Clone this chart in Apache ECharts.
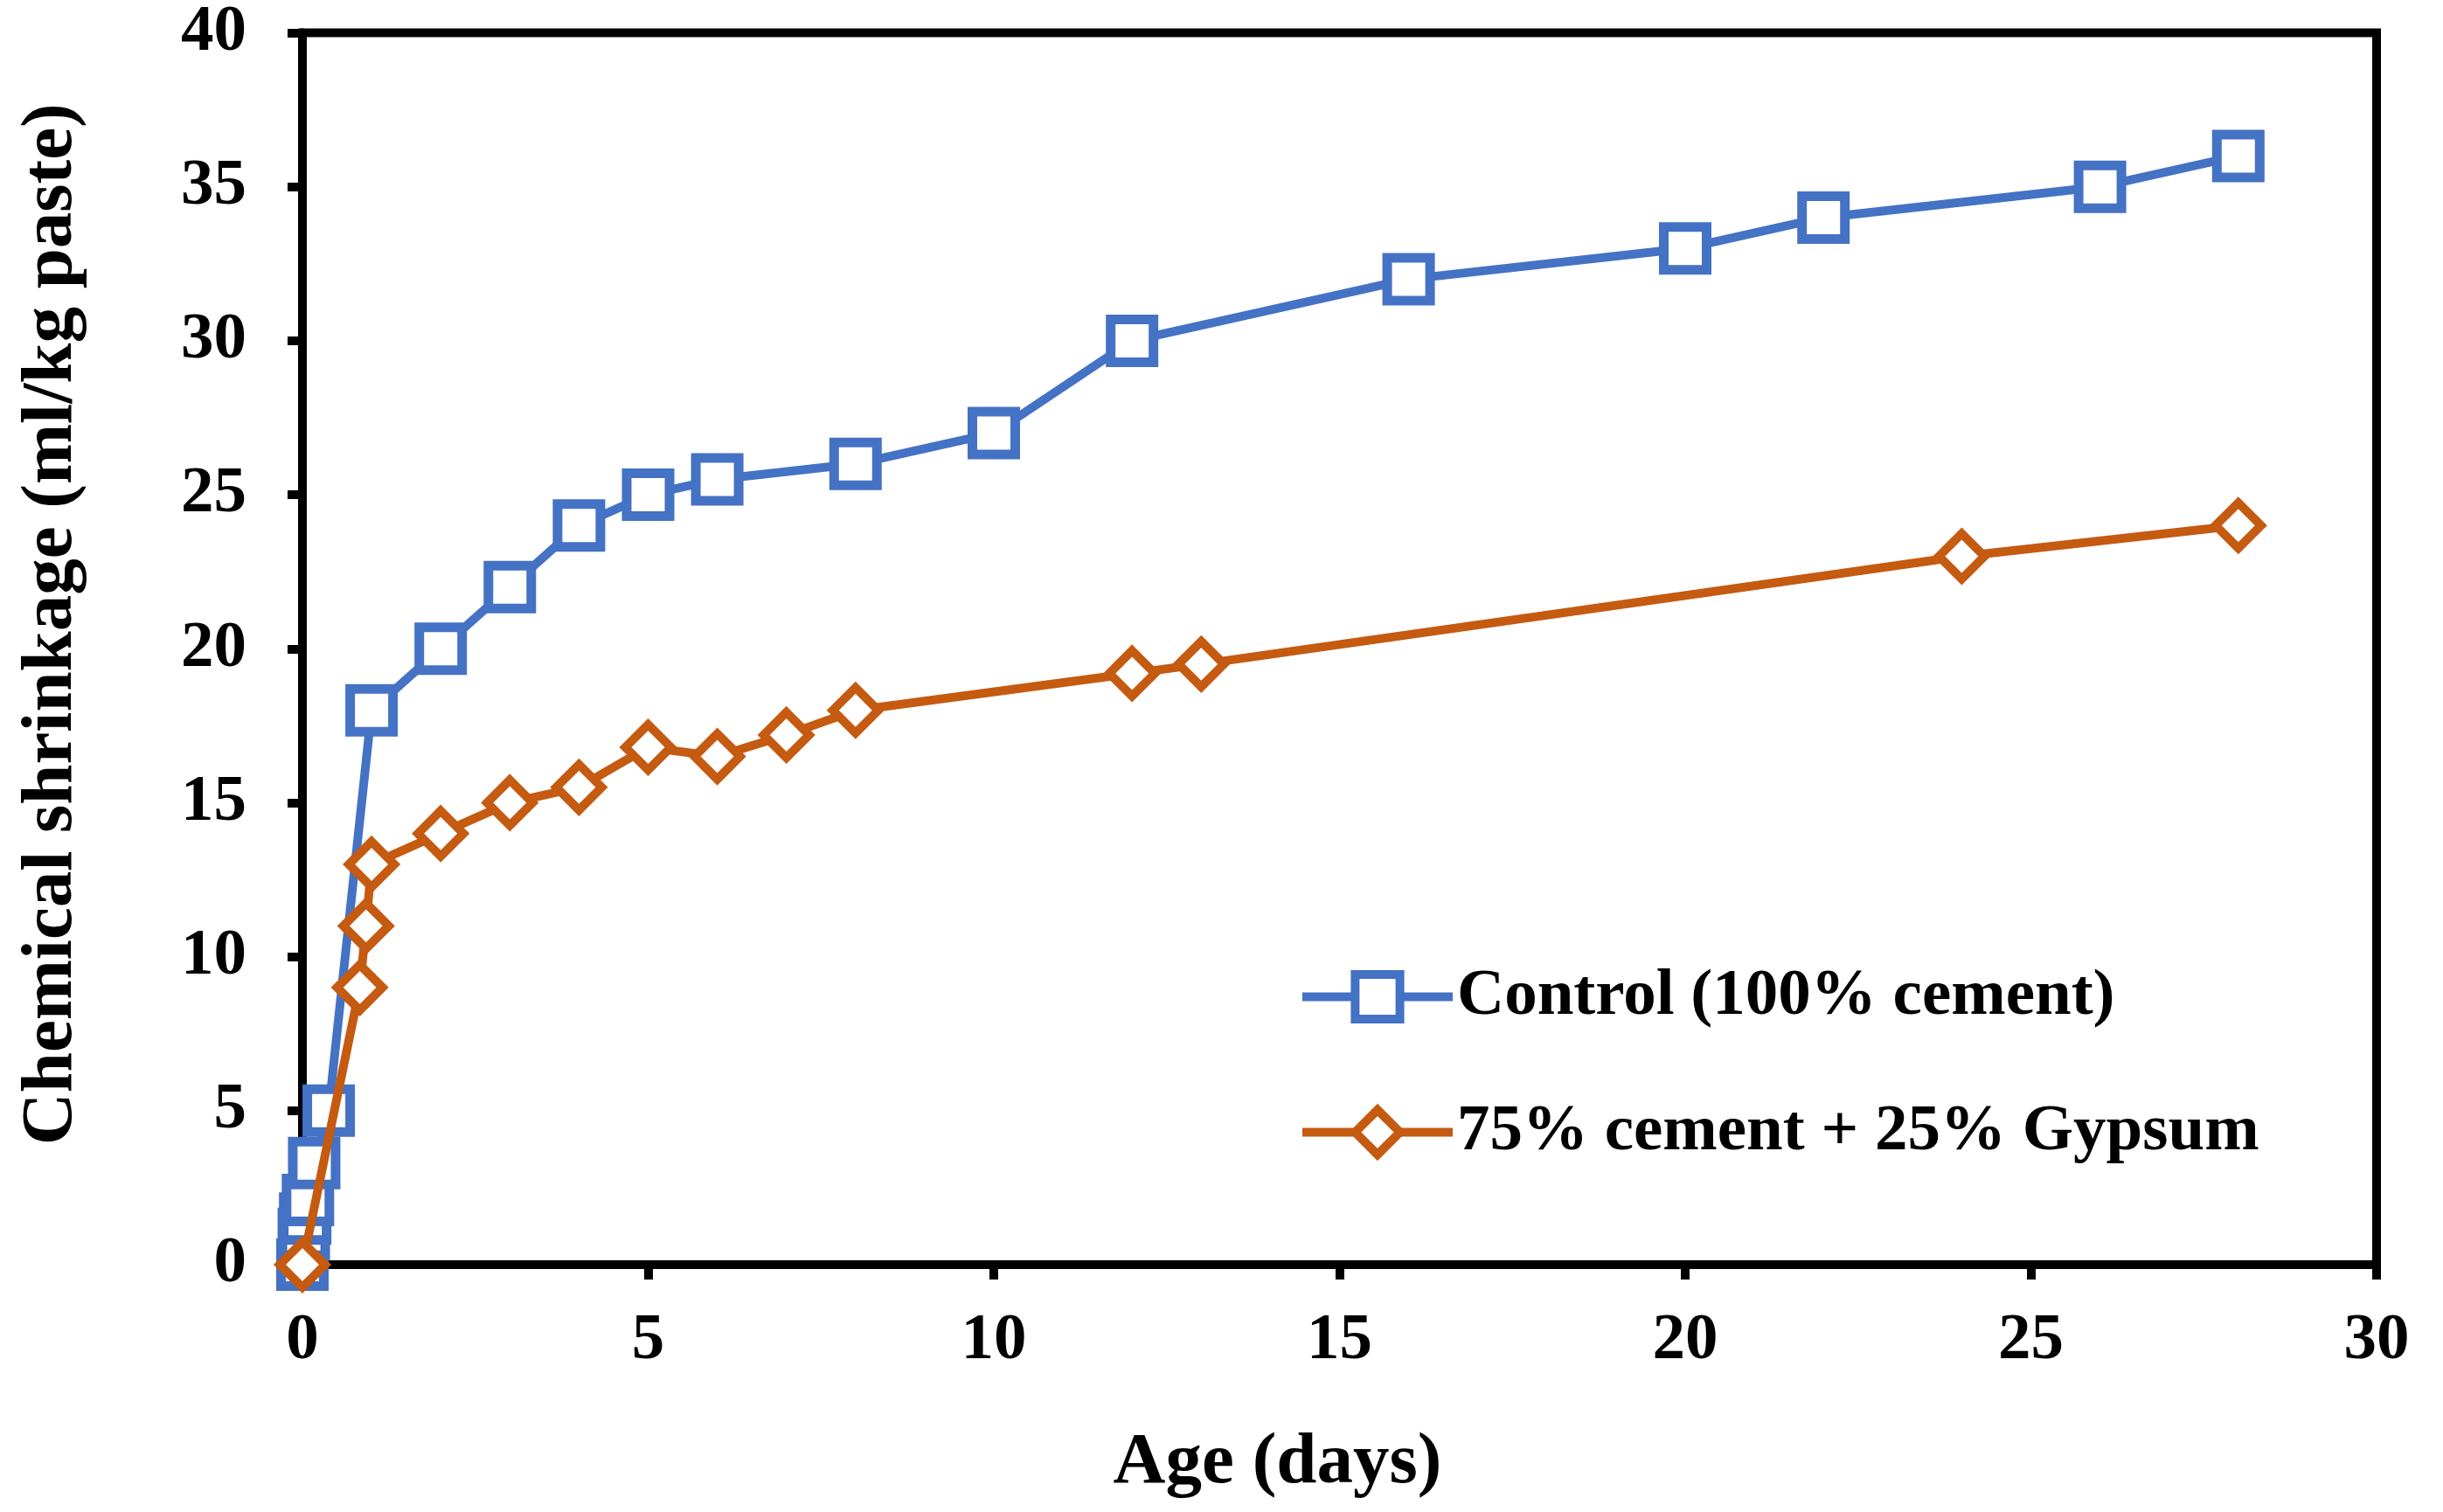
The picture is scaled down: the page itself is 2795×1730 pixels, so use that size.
<!DOCTYPE html>
<html>
<head>
<meta charset="utf-8">
<script src="https://cdn.jsdelivr.net/npm/echarts@6/dist/echarts.min.js"></script>
<style>
html,body{margin:0;padding:0;background:#fff;}
#chart{width:2795px;height:1730px;}
</style>
</head>
<body>
<div id="chart"></div>
<script>
// Data
const ageControl   = [0, 0.02, 0.04, 0.08, 0.17, 0.38, 1, 2, 3, 4, 5, 6, 8, 10, 12, 16, 20, 22, 26, 28];
const shrinkControl= [0, 1.0, 1.5, 2.1, 3.3, 5.0, 18, 20, 22, 24, 25, 25.5, 26, 27, 30, 32, 33, 34, 35, 36];
const ageGypsum    = [0, 0.83, 0.92, 1, 2, 3, 4, 5, 6, 7, 8, 12, 13, 24, 28];
const shrinkGypsum = [0, 9, 11, 13, 14, 15, 15.5, 16.8, 16.5, 17.2, 18, 19.2, 19.5, 23, 24];
const seriesNames  = ['Control (100% cement)', '75% cement + 25% Gypsum'];
const xTitle = 'Age (days)';
const yTitle = 'Chemical shrinkage (ml/kg paste)';

const FONT = '"Liberation Serif", "Times New Roman", serif';
const pairs = (xs, ys) => xs.map((x, i) => [x, ys[i]]);

const chart = echarts.init(document.getElementById('chart'), null, {renderer: 'canvas'});
chart.setOption({
  backgroundColor: '#fff',
  animation: false,
  grid: {
    left: 346, right: 76, top: 36, bottom: 283,
    show: true, borderColor: '#000', borderWidth: 10, backgroundColor: 'transparent'
  },
  legend: {
    orient: 'vertical',
    left: 1480, top: 1098,
    itemWidth: 172, itemHeight: 64, itemGap: 80,
    lineStyle: {width: 10},
    itemStyle: {borderWidth: 10},
    textStyle: {fontFamily: FONT, fontWeight: 'bold', fontSize: 75, color: '#000', lineHeight: 70},
    data: seriesNames
  },
  xAxis: {
    type: 'value', min: 0, max: 30, interval: 5,
    name: xTitle, nameLocation: 'middle', nameGap: 186,
    nameTextStyle: {fontFamily: FONT, fontWeight: 'bold', fontSize: 83, color: '#000', padding: [0, 142, 0, 0]},
    axisLine: {show: true, onZero: false, lineStyle: {color: '#000', width: 10}},
    axisTick: {show: true, inside: false, length: 17, lineStyle: {color: '#000', width: 10}},
    axisLabel: {fontFamily: FONT, fontWeight: 'bold', fontSize: 75, color: '#000', margin: 50},
    splitLine: {show: false}
  },
  yAxis: {
    type: 'value', min: 0, max: 40, interval: 5,
    name: yTitle, nameLocation: 'middle', nameGap: 245, nameRotate: 90,
    nameTextStyle: {fontFamily: FONT, fontWeight: 'bold', fontSize: 83, color: '#000', padding: [0, 0, 0, 56]},
    axisLine: {show: true, lineStyle: {color: '#000', width: 10}},
    axisTick: {show: true, inside: false, length: 17, lineStyle: {color: '#000', width: 10}},
    axisLabel: {fontFamily: FONT, fontWeight: 'bold', fontSize: 75, color: '#000', margin: 64},
    splitLine: {show: false}
  },
  series: [
    {
      name: seriesNames[0], type: 'line', data: pairs(ageControl, shrinkControl),
      clip: false, z: 3,
      symbol: 'rect', symbolSize: 49,
      lineStyle: {color: '#4472C4', width: 10},
      itemStyle: {color: '#fff', borderColor: '#4472C4', borderWidth: 11}
    },
    {
      name: seriesNames[1], type: 'line', data: pairs(ageGypsum, shrinkGypsum),
      clip: false, z: 4,
      symbol: 'diamond', symbolSize: 52,
      lineStyle: {color: '#C55A11', width: 10},
      itemStyle: {color: '#fff', borderColor: '#C55A11', borderWidth: 10}
    }
  ]
});
</script>
</body>
</html>
